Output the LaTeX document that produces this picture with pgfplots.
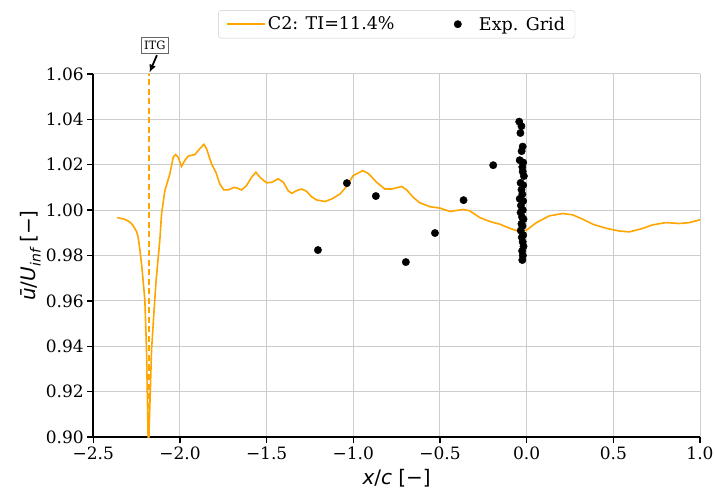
\documentclass[border=0pt]{standalone}
\usepackage{fontspec}
\usepackage{pgfplots}
\pgfplotsset{compat=1.18}
\usetikzlibrary{arrows.meta}
\setmainfont{DejaVu Serif}
\newfontfamily\dvs{DejaVu Sans}
\definecolor{mplorange}{HTML}{FFA500}
\definecolor{gridgray}{HTML}{CDCDCD}
\pgfplotsset{
  mylineleg/.style={legend image code/.code={\draw[##1] (0bp,0bp) -- (38bp,0bp);}},
  mydotleg/.style={legend image code/.code={\draw[##1] plot coordinates {(19bp,0bp)};\path (0bp,0bp) (38bp,0bp);}},
}

\begin{document}
\begin{tikzpicture}
\begin{axis}[
  at={(0,0)}, anchor=south west,
  scale only axis, width=606.7bp, height=363bp,
  xmin=-2.5, xmax=1.0, ymin=0.90, ymax=1.06,
  axis x line*=bottom, axis y line*=left,
  axis line style={-, line width=1.6bp, black},
  xtick={-2.5,-2,-1.5,-1,-0.5,0,0.5,1},
  xticklabels={−2.5,−2.0,−1.5,−1.0,−0.5,0.0,0.5,1.0},
  ytick={0.90,0.92,0.94,0.96,0.98,1.00,1.02,1.04,1.06},
  yticklabels={0.90,0.92,0.94,0.96,0.98,1.00,1.02,1.04,1.06},
  tick align=outside, major tick length=6bp,
  tick style={black, line width=1.4bp},
  tick label style={font=\fontsize{17bp}{20bp}\selectfont},
  grid=major, grid style={gridgray, line width=1bp},
  clip mode=individual,
  xlabel={\dvs\itshape x\upshape/\itshape c\upshape\ [−]},
  ylabel={\dvs\itshape ū\upshape/\itshape U\raisebox{-0.28em}{\fontsize{14bp}{14bp}\selectfont inf}\upshape\ [−]},
  xlabel style={at={([yshift=-41bp]axis description cs:0.5,0)}, anchor=center, font=\fontsize{20bp}{24bp}\selectfont},
  ylabel style={at={([xshift=-63bp]axis description cs:0,0.5)}, anchor=center, font=\fontsize{20bp}{24bp}\selectfont},
  legend columns=2,
  legend cell align=left,
  legend style={at={(0.5,1)}, anchor=south, yshift=35.7bp, draw=gridgray, rounded corners=3bp,
    font=\fontsize{17.5bp}{21bp}\selectfont, inner xsep=8bp, inner ysep=4.5bp,
    /tikz/every even column/.append style={column sep=42bp}},
]
\addplot[mplorange, line width=1.6bp, forget plot, dash pattern=on 6bp off 3.5bp]
  coordinates {(-2.178,0.90) (-2.178,1.06)};

\addplot[mplorange, line width=1.6bp, mylineleg]
coordinates {
(-2.362,0.9967) (-2.330,0.9962) (-2.308,0.9956) (-2.285,0.9945) (-2.270,0.9931)
(-2.250,0.9905) (-2.241,0.9879) (-2.231,0.9824) (-2.220,0.9750) (-2.2025,0.9604)
(-2.193,0.9383) (-2.184,0.9009) (-2.181,0.8970) (-2.178,0.9031) (-2.164,0.9383)
(-2.150,0.9550) (-2.139,0.9677) (-2.126,0.9787) (-2.116,0.9870) (-2.106,0.9985)
(-2.087,1.0086) (-2.070,1.0130) (-2.058,1.0160) (-2.039,1.0233) (-2.025,1.0245)
(-2.010,1.0233) (-1.991,1.0192) (-1.972,1.0219) (-1.953,1.0238) (-1.930,1.0242)
(-1.914,1.0245) (-1.885,1.0271) (-1.862,1.0290) (-1.847,1.0271) (-1.818,1.0204)
(-1.793,1.0167) (-1.770,1.0115) (-1.747,1.0089) (-1.722,1.0089) (-1.689,1.0100)
(-1.673,1.0098) (-1.645,1.0089) (-1.616,1.0108) (-1.587,1.0145) (-1.562,1.0167)
(-1.539,1.0145) (-1.500,1.0120) (-1.471,1.0123) (-1.433,1.0138) (-1.404,1.0123)
(-1.376,1.0086) (-1.356,1.0074) (-1.327,1.0086) (-1.298,1.0093) (-1.270,1.0083)
(-1.241,1.0059) (-1.212,1.0045) (-1.164,1.0038) (-1.125,1.0049) (-1.077,1.0071)
(-1.039,1.0104) (-1.001,1.0152) (-0.946,1.0174) (-0.914,1.0162) (-0.866,1.0123)
(-0.818,1.0093) (-0.779,1.0093) (-0.721,1.0104) (-0.692,1.0089) (-0.654,1.0056)
(-0.616,1.0032) (-0.558,1.0015) (-0.500,1.0009) (-0.443,0.9994) (-0.366,1.0003)
(-0.328,0.9997) (-0.270,0.9967) (-0.213,0.9950) (-0.155,0.9938) (-0.098,0.9920)
(-0.040,0.9905) (-0.002,0.9911) (0.056,0.9945) (0.132,0.9975) (0.209,0.9985)
(0.266,0.9979) (0.324,0.9960) (0.381,0.9938) (0.458,0.9920) (0.534,0.9908)
(0.592,0.9904) (0.668,0.9919) (0.726,0.9935) (0.803,0.9945) (0.879,0.9941)
(0.937,0.9945) (1.000,0.9957)
};
\addlegendentry{C2: TI=11.4\%}

\addplot[only marks, mark=*, mark size=3.7bp, black, mydotleg]
coordinates {
(-1.204,0.9824) (-1.037,1.0119) (-0.870,1.0062) (-0.697,0.9771) (-0.529,0.9899)
(-0.364,1.0044) (-0.193,1.0198)
(-0.043,1.039) (-0.030,1.037) (-0.036,1.034) (-0.023,1.028) (-0.029,1.026)
(-0.040,1.022) (-0.020,1.021) (-0.025,1.019) (-0.023,1.017) (-0.016,1.015)
(-0.035,1.012) (-0.020,1.011) (-0.030,1.009) (-0.025,1.007) (-0.040,1.005)
(-0.020,1.004) (-0.033,1.002) (-0.022,1.000) (-0.035,0.999) (-0.027,0.997)
(-0.018,0.996) (-0.030,0.994) (-0.024,0.993) (-0.034,0.991) (-0.020,0.989)
(-0.028,0.988) (-0.023,0.986) (-0.018,0.984) (-0.026,0.982) (-0.022,0.980)
(-0.025,0.978)
};
\addlegendentry{Exp. Grid}

\node[draw=black!60, fill=white, inner xsep=2.5bp, inner ysep=3.5bp, line width=0.8bp,
  font=\fontsize{11.5bp}{13bp}\selectfont] at (axis cs:-2.145,1.0726) {ITG};
\draw[-{Latex[length=8bp,width=7bp]}, line width=1.8bp]
  (axis cs:-2.133,1.0683) -- (axis cs:-2.176,1.0606);
\end{axis}
\pgfresetboundingbox
\path[use as bounding box] (-93.3bp,-57bp) rectangle (621.7bp,437bp);
\end{tikzpicture}
\end{document}
